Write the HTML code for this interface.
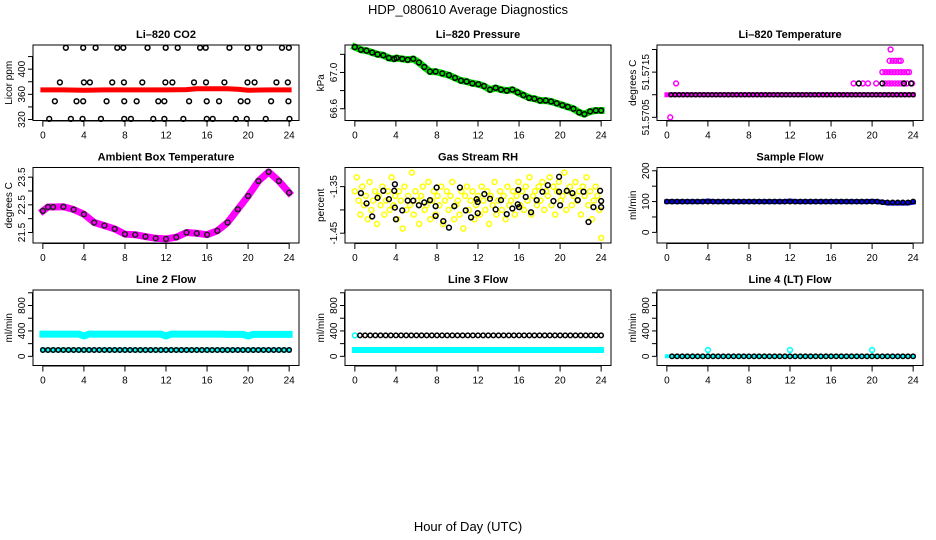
<!DOCTYPE html>
<html><head><meta charset="utf-8"><style>
html,body{margin:0;padding:0;background:#fff;}
svg{display:block;font-family:"Liberation Sans",sans-serif;}
</style></head><body>
<svg id="chart" width="936" height="540" viewBox="0 0 936 540">
<rect width="936" height="540" fill="#fff"/>
<text x="468" y="14" text-anchor="middle" font-size="13">HDP_080610  Average Diagnostics</text>
<text x="468" y="531" text-anchor="middle" font-size="13">Hour of Day (UTC)</text>
</svg>
<script>
// ---------- data ----------
const xTicks=[0,4,8,12,16,20,24];
// CO2
const co2BandHours=[0,2,4,6,8,10,12,14,15,16,18,19,20,22,24];
const co2BandVals=[367,367,366.5,367,367,367,367,367.5,369,369,369,368,366.5,367,367];
const co2Hours=[2.24,3.93,5.14,7.25,7.84,10.2,11.97,13.14,15.32,15.87,18.18,19.94,21.11,23.3,23.97,
1.66,4.0,4.58,6.76,7.9,9.69,11.94,12.62,14.73,15.9,17.69,19.94,20.63,22.76,23.87,
1.17,3.28,3.93,6.21,7.93,9.14,11.25,11.84,14.25,15.97,17.17,19.28,19.94,22.24,23.93,
0.62,2.73,3.87,5.66,7.93,8.58,10.76,11.84,13.69,15.97,16.55,18.8,19.87,21.72,24.03];
const co2Vals=[434,434,434,434,434,434,434,434,434,434,434,434,434,434,434,
379,379,379,379,379,379,379,379,379,379,379,379,379,379,379,
349,349,349,349,349,349,349,349,349,349,349,349,349,349,349,
321,321,321,321,321,321,321,321,321,321,321,321,321,321,321];
// Pressure
const presHours=[0,0.59,1.14,1.69,2.21,2.77,3.32,3.84,4.07,4.62,5.15,5.69,6.24,6.77,7.32,7.87,8.52,9.17,9.76,10.34,10.89,11.45,12.03,12.59,13.17,13.72,14.24,14.8,15.35,15.87,16.42,16.98,17.5,18.05,18.6,19.12,19.67,20.23,20.75,21.3,21.85,22.37,22.93,23.48,24.0];
const presVals=[67.28,67.25,67.24,67.22,67.20,67.19,67.16,67.15,67.16,67.15,67.14,67.15,67.11,67.06,67.01,67.01,66.99,66.97,66.94,66.91,66.90,66.88,66.87,66.85,66.81,66.83,66.81,66.80,66.81,66.78,66.75,66.72,66.71,66.69,66.69,66.68,66.66,66.64,66.62,66.60,66.56,66.54,66.57,66.58,66.58];
// Li-820 temperature
const tempBandHours=[0,24];
const tempBandVals=[51.5710,51.5710];
const tempBaseHours=[0.4,0.8,1.2,1.6,2,2.4,2.8,3.2,3.6,4,4.4,4.8,5.2,5.6,6,6.4,6.8,7.2,7.6,8,8.4,8.8,9.2,9.6,10,10.4,10.8,11.2,11.6,12,12.4,12.8,13.2,13.6,14,14.4,14.8,15.2,15.6,16,16.4,16.8,17.2,17.6,18,18.4,18.8,19.2,19.6,20,20.4,20.8,21.2,21.6,22,22.4,22.8,23.2,23.6,24];
const tempMagHours=[0.33,0.9,18.2,19.1,19.6,20.4,21.3,21.6,21.9,22.2,22.5,22.8,23.1,23.4,23.9,21.0,21.3,21.6,21.9,22.2,22.5,22.8,23.1,23.4,23.6,21.7,22.0,22.3,22.6,22.8,21.8];
const tempMagVals=[51.5705,51.57125,51.57125,51.57125,51.57125,51.57125,51.57125,51.57125,51.57125,51.57125,51.57125,51.57125,51.57125,51.57125,51.57125,51.5715,51.5715,51.5715,51.5715,51.5715,51.5715,51.5715,51.5715,51.5715,51.5715,51.57175,51.57175,51.57175,51.57175,51.57175,51.572];
const tempBlkHours=[18.7,21.0,23.1,23.8];
const tempBlkVals=[51.57125,51.57125,51.57125,51.57125];
// Ambient
const ambHours=[0,0.5,1,2,3,4,5,6,7,8,9,10,11,12,13,14,15,16,17,18,19,20,21,22,23,24];
const ambVals=[22.28,22.42,22.42,22.43,22.33,22.16,21.86,21.75,21.63,21.44,21.42,21.35,21.29,21.27,21.33,21.5,21.47,21.42,21.56,21.86,22.34,22.82,23.36,23.69,23.36,22.94];
// RH
const rhYellow=[-1.36,-1.33,-1.38,-1.41,-1.35,-1.39,-1.37,-1.42,-1.34,-1.40,
-1.38,-1.36,-1.43,-1.37,-1.39,-1.35,-1.41,-1.38,-1.36,-1.40,
-1.33,-1.39,-1.37,-1.42,-1.36,-1.38,-1.44,-1.35,-1.40,-1.37,
-1.39,-1.32,-1.41,-1.36,-1.38,-1.43,-1.37,-1.35,-1.40,-1.39,
-1.34,-1.42,-1.38,-1.36,-1.41,-1.37,-1.39,-1.35,-1.43,-1.38,
-1.36,-1.40,-1.37,-1.34,-1.42,-1.39,-1.38,-1.41,-1.36,-1.44,
-1.37,-1.35,-1.40,-1.38,-1.36,-1.42,-1.39,-1.37,-1.41,-1.35,
-1.38,-1.40,-1.36,-1.43,-1.37,-1.39,-1.34,-1.41,-1.38,-1.36,
-1.40,-1.37,-1.42,-1.35,-1.39,-1.38,-1.36,-1.41,-1.37,-1.34,
-1.39,-1.36,-1.40,-1.35,-1.38,-1.33,-1.41,-1.37,-1.36,-1.39,
-1.35,-1.38,-1.34,-1.40,-1.36,-1.37,-1.33,-1.39,-1.35,-1.41,
-1.36,-1.34,-1.38,-1.37,-1.32,-1.40,-1.36,-1.35,-1.39,-1.37,
-1.34,-1.38,-1.36,-1.41,-1.35,-1.37,-1.33,-1.39,-1.36,-1.42,
-1.38,-1.35,-1.37,-1.40,-1.46];
const rhHours=[0.59,1.14,1.69,2.21,2.77,3.32,3.84,3.90,3.90,4.0,4.62,5.15,5.69,6.24,6.77,7.32,7.87,7.87,7.97,8.62,9.17,9.69,10.24,10.80,11.32,11.87,11.97,11.97,12.62,13.17,13.72,14.24,14.80,15.35,15.87,15.93,16.0,16.65,17.17,17.72,18.28,18.8,19.35,19.90,19.90,20.0,20.65,21.2,21.72,22.28,22.77,23.25,23.9,24.0,24.0];
const rhVals=[-1.364,-1.386,-1.414,-1.374,-1.359,-1.377,-1.359,-1.345,-1.395,-1.420,-1.401,-1.380,-1.380,-1.390,-1.384,-1.379,-1.392,-1.413,-1.352,-1.424,-1.438,-1.392,-1.352,-1.401,-1.416,-1.377,-1.383,-1.407,-1.366,-1.376,-1.399,-1.379,-1.409,-1.397,-1.388,-1.357,-1.394,-1.372,-1.405,-1.379,-1.361,-1.347,-1.381,-1.329,-1.361,-1.390,-1.359,-1.364,-1.379,-1.361,-1.426,-1.394,-1.359,-1.381,-1.394];
// Flows
const flowHours=[0,0.5,1,1.5,2,2.5,3,3.5,4,4.5,5,5.5,6,6.5,7,7.5,8,8.5,9,9.5,10,10.5,11,11.5,12,12.5,13,13.5,14,14.5,15,15.5,16,16.5,17,17.5,18,18.5,19,19.5,20,20.5,21,21.5,22,22.5,23,23.5,24];
const sampleBlue=[100,100,100,100,100,100,100,100,102,100,100,100,100,100,100,100,100,100,100,100,100,100,100,100,102,100,100,100,100,100,100,100,100,100,100,100,100,100,100,100,101,100,98,95,95,95,95,95,98];
const sampleBlack=[100,100,100,100,100,100,100,100,100,100,100,100,100,100,100,100,100,100,100,100,100,100,100,100,100,100,100,100,100,100,100,100,100,100,100,100,100,100,100,100,100,100,98,97,97,97,97,97,100];
const line2Cyan=[350,350,350,350,350,350,350,350,320,350,350,350,350,350,350,350,350,350,350,350,350,350,350,350,320,350,350,350,350,350,350,350,350,350,350,350,345,345,345,345,320,345,345,345,345,345,345,345,345];
const line2Black=[100,100,100,100,100,100,100,100,100,100,100,100,100,100,100,100,100,100,100,100,100,100,100,100,100,100,100,100,100,100,100,100,100,100,100,100,100,100,100,100,100,100,100,100,100,100,100,100,100];
const line3Cyan=[100,100,100,100,100,100,100,100,100,100,100,100,100,100,100,100,100,100,100,100,100,100,100,100,100,100,100,100,100,100,100,100,100,100,100,100,100,100,100,100,100,100,100,100,100,100,100,100,100];
const line3Black=[330,330,330,330,330,330,330,330,330,330,330,330,330,330,330,330,330,330,330,330,330,330,330,330,330,330,330,330,330,330,330,330,330,330,330,330,330,330,330,330,330,330,330,330,330,330,330,330,330];
const line4Black=[0,0,0,0,0,0,0,0,0,0,0,0,0,0,0,0,0,0,0,0,0,0,0,0,0,0,0,0,0,0,0,0,0,0,0,0,0,0,0,0,0,0,0,0,0,0,0,0,0];
const line4SpikeHours=[4,12,20];
const line4SpikeVals=[100,100,100];

// ---------- helpers ----------
const NS='http://www.w3.org/2000/svg';
const svg=document.getElementById('chart');
const COLS=[33,345,657], ROWS=[45,167.5,290], W=266, H=75.5;
function el(tag,attrs,parent){const e=document.createElementNS(NS,tag);for(const k in attrs)e.setAttribute(k,attrs[k]);(parent||svg).appendChild(e);return e;}
function panel(c,r,title,ylab,ymin,ymax,ticks,labels,name){
  const L=COLS[c],T=ROWS[r];
  const g=el('g',{});
  
  
  const sx=h=>L+(h+0.96)/25.92*W;
  const sy=v=>T+(ymax-v)/(ymax-ymin)*H;
  const t=el('text',{x:L+W/2,y:T-7,'text-anchor':'middle','font-size':11,'font-weight':'bold'},g);
  t.textContent=title;
  
  
  const yl=el('text',{transform:`translate(${L-21},${T+H/2}) rotate(-90)`,'text-anchor':'middle','font-size':10},g);
  yl.textContent=ylab;
  
  
  const ax=el('g',{stroke:'#000','stroke-width':1,fill:'none'},g);
  
  
  el('line',{x1:sx(0),x2:sx(24),y1:T+H+0.5,y2:T+H+0.5},ax);
  xTicks.forEach(h=>{el('line',{x1:sx(h),x2:sx(h),y1:T+H,y2:T+H+6},ax);
    const tl=el('text',{x:sx(h),y:T+H+18,'text-anchor':'middle','font-size':10,fill:'#000',stroke:'none'},g);
    tl.textContent=h;
    
    });
  el('line',{x1:L-0.5,x2:L-0.5,y1:sy(ticks[0]),y2:sy(ticks[ticks.length-1])},ax);
  ticks.forEach(v=>el('line',{x1:L-5,x2:L,y1:sy(v),y2:sy(v)},ax));
  labels.forEach(lb=>{const tl=el('text',{transform:`translate(${L-8},${sy(lb[0])}) rotate(-90)`,'text-anchor':'middle','font-size':10},g);
    tl.textContent=lb[1];
    
    });
  const plot=el('g',{},g);
  el('rect',{x:L,y:T,width:W,height:H,fill:'none',stroke:'#000','stroke-width':1},g);
  return {plot,sx,sy};
}
function band(p,hs,vs,color,w,name){
  const pts=hs.map((h,i)=>p.sx(h).toFixed(1)+','+p.sy(vs[i]).toFixed(1)).join(' ');
  const pl=el('polyline',{points:pts,fill:'none',stroke:color,'stroke-width':w,'stroke-linejoin':'round','stroke-linecap':'square'},p.plot);
  
  
}
function pts(p,hs,vs,color,name,r){
  const g=el('g',{fill:'none',stroke:color,'stroke-width':1.5},p.plot);
  
  
  hs.forEach((h,i)=>{const c=el('circle',{cx:p.sx(h),cy:p.sy(vs[i]),r:r||2.4},g);
    
    });
}

// ---------- panels ----------
let p;
p=panel(0,0,'Li–820 CO2','Licor ppm',318.4,438.4,[320,340,360,380,400,420],[[320,'320'],[360,'360'],[400,'400']],'co2');
band(p,co2BandHours,co2BandVals,'#ff0000',5,'co2-red-series');
pts(p,co2Hours,co2Vals,'#000','co2-black-series');

p=panel(1,0,'Li–820 Pressure','kPa',66.47,67.303,[66.6,66.8,67.0,67.2],[[66.6,'66.6'],[67.0,'67.0']],'pressure');
band(p,presHours,presVals,'#00dd00',7,'pressure-green-series');
pts(p,presHours,presVals,'#000','pressure-black-series');

p=panel(2,0,'Li–820 Temperature','degrees C',51.57043,51.57210,[51.5705,51.571,51.5715,51.572],[[51.5715,'51.5715'],[51.5705,'51.5705']],'li820-temp');
band(p,tempBandHours,tempBandVals,'#ff00ff',5,'li820-temp-magenta-band');
pts(p,tempMagHours,tempMagVals,'#ff00ff','li820-temp-magenta-series');
pts(p,tempBaseHours,tempBaseHours.map(()=>tempBandVals[0]),'#000','li820-temp-black-series',2);
pts(p,tempBlkHours,tempBlkVals,'#000','li820-temp-black-extra');

p=panel(0,1,'Ambient Box Temperature','degrees C',21.12,23.85,[21.5,22,22.5,23,23.5],[[21.5,'21.5'],[22.5,'22.5'],[23.5,'23.5']],'ambient');
band(p,ambHours,ambVals,'#ff00ff',7,'ambient-magenta-series');
pts(p,ambHours,ambVals,'#222','ambient-black-series');

p=panel(1,1,'Gas Stream RH','percent',-1.471,-1.309,[-1.45,-1.40,-1.35],[[-1.45,'-1.45'],[-1.35,'-1.35']],'rh');
pts(p,rhYellow.map((v,i)=>i*24/(rhYellow.length-1)),rhYellow,'#ffff00','rh-yellow-series',2.5);
pts(p,rhHours,rhVals,'#000','rh-black-series');

p=panel(2,1,'Sample Flow','ml/min',-34.5,210.6,[0,50,100,150,200],[[0,'0'],[100,'100'],[200,'200']],'sample-flow');
band(p,flowHours,sampleBlue,'#0000ff',5,'sample-flow-blue-series');
pts(p,flowHours,sampleBlack,'#000','sample-flow-black-series',2.2);

const flowT=[0,200,400,600,800,1000], flowL=[[0,'0'],[400,'400'],[800,'800']];
p=panel(0,2,'Line 2 Flow','ml/min',-144,1044,flowT,flowL,'line2');
band(p,flowHours,line2Cyan,'#00ffff',7,'line2-cyan-band');
band(p,flowHours,line2Black,'#00ffff',5,'line2-cyan-low-band');
pts(p,flowHours,line2Black,'#000','line2-black-series',2.2);

p=panel(1,2,'Line 3 Flow','ml/min',-144,1044,flowT,flowL,'line3');
band(p,flowHours,line3Cyan,'#00ffff',6,'line3-cyan-band');
pts(p,[0],[330],'#00ffff','line3-cyan-start');
pts(p,flowHours.slice(1),line3Black.slice(1),'#000','line3-black-series',2.2);

p=panel(2,2,'Line 4 (LT) Flow','ml/min',-144,1044,flowT,flowL,'line4');
band(p,flowHours,line4Black,'#00ffff',4,'line4-cyan-band');
pts(p,flowHours.slice(1),line4Black.slice(1),'#000','line4-black-series',2.2);
pts(p,line4SpikeHours,line4SpikeVals,'#00ffff','line4-cyan-spikes');
</script>
</body></html>
